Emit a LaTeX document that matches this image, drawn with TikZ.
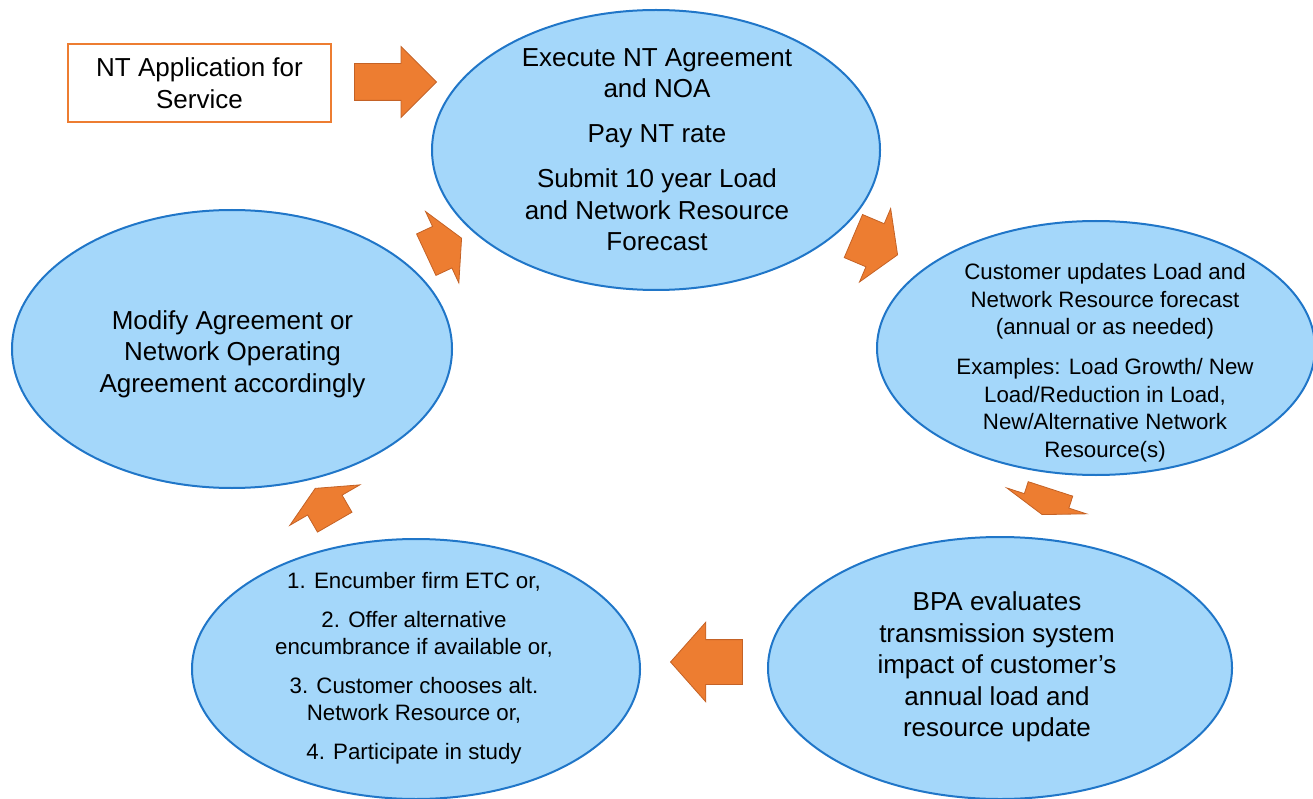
\documentclass[tikz,border=0pt]{standalone}
\usepackage{fontspec}
\setmainfont{Liberation Sans}
\usetikzlibrary{shapes.geometric,shapes.arrows}
\definecolor{bubblefill}{RGB}{164,215,250}
\definecolor{bubbleline}{RGB}{32,118,200}
\definecolor{flowfill}{RGB}{237,125,49}
\definecolor{flowline}{RGB}{196,98,38}
\tikzset{
  bubble/.style={ellipse,draw=bubbleline,line width=2pt,fill=bubblefill,inner sep=0pt},
  bigtext/.style={align=center,inner sep=0pt,font=\fontsize{26}{31.5}\selectfont},
  smalltext/.style={align=center,inner sep=0pt,font=\fontsize{22.3}{27.5}\selectfont},
  flow/.style={single arrow,draw=flowline,line width=0.8pt,fill=flowfill,inner xsep=0pt,anchor=tip},
}
\begin{document}
\begin{tikzpicture}[x=1pt,y=-1pt]
        \useasboundingbox (0,0) rectangle (1313,799);
        \clip (0,0) rectangle (1313,799);
        % the five steps of the cycle
        \node[bubble,minimum width=448pt,minimum height=280pt] (execute) at (656,150) {};
        \node[bubble,minimum width=438pt,minimum height=254pt] (update) at (1096,348) {};
        \node[bubble,minimum width=464pt,minimum height=262pt] (evaluate) at (1000,668) {};
        \node[bubble,minimum width=448pt,minimum height=260pt] (encumber) at (416,669) {};
        \node[bubble,minimum width=440pt,minimum height=278pt] (modify) at (232,349) {};
        % texts of the steps
        \node[bigtext] (execute text) at (657,149.5) {Execute NT Agreement\\and NOA\\[13.5pt]Pay NT rate\\[13.5pt]Submit 10 year Load\\and Network Resource\\Forecast};
        \node[smalltext] (update text) at (1105,362.8) {Customer updates Load and\\Network Resource forecast\\(annual or as needed)\\[12.5pt]Examples: Load Growth/ New\\Load/Reduction in Load,\\New/Alternative Network\\Resource(s)};
        \node[bigtext] (evaluate text) at (997,667) {BPA evaluates\\transmission system\\impact of customer’s\\annual load and\\resource update};
        \node[smalltext] (encumber text) at (414,668) {1. Encumber firm ETC or,\\[11pt]2. Offer alternative\\encumbrance if available or,\\[11pt]3. Customer chooses alt.\\Network Resource or,\\[11pt]4. Participate in study};
        \node[bigtext] (modify text) at (232.5,354) {Modify Agreement or\\Network Operating\\Agreement accordingly};
        % starting box
        \node[bigtext,draw=flowfill,line width=1.5pt,minimum width=263pt,minimum height=78pt] (apply) at (199.5,83) {NT Application for\\Service};
        % block arrows, placed by their tips
        \node[flow,inner ysep=18pt,minimum height=82pt,single arrow head extend=17pt,single arrow tip angle=90] (a1) at (437,82) {};
        \node[flow,rotate=-23,inner ysep=23pt,minimum height=48pt,single arrow head extend=16.5pt,single arrow tip angle=117] (a2) at (898,255) {};
        \node[flow,rotate=-108,inner ysep=23pt,minimum height=27pt,single arrow head extend=18.5pt,single arrow tip angle=142] (a3) at (1042,515) {};
        \node[flow,rotate=180,inner ysep=22pt,minimum height=72pt,single arrow head extend=17.5pt,single arrow tip angle=97] (a4) at (670,662) {};
        \node[flow,rotate=120,inner ysep=19.5pt,minimum height=39pt,single arrow head extend=20.5pt,single arrow tip angle=129] (a5) at (315,488) {};
        \node[flow,rotate=25,inner ysep=22.5pt,minimum height=39pt,single arrow head extend=16.5pt,single arrow tip angle=123] (a6) at (462,238) {};
      \end{tikzpicture}
\end{document}
